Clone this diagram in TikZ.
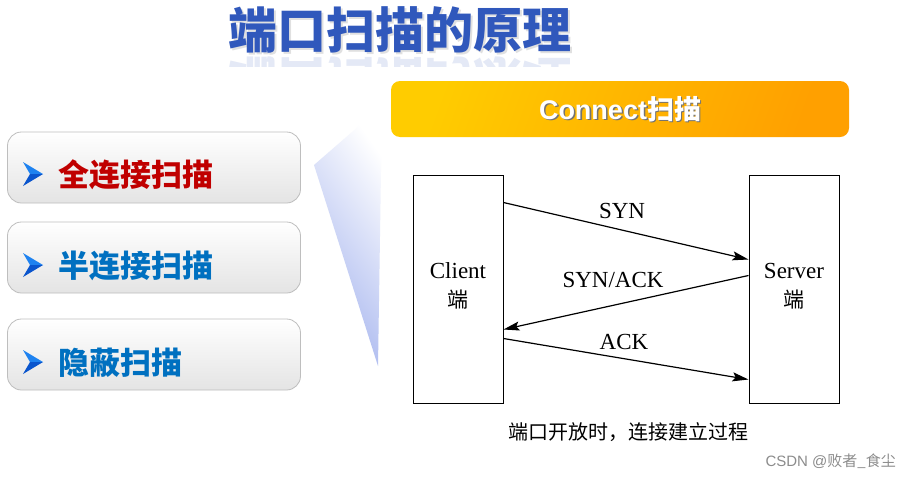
\documentclass[tikz,border=0pt]{standalone}
\usepackage{fontspec}
\setmainfont{Liberation Serif}
\newfontfamily\cjk{Noto Sans CJK SC}
\newfontfamily\arialf{Liberation Sans}
\usetikzlibrary{arrows.meta}
\definecolor{titleblue}{RGB}{48,88,188}
\definecolor{reflblue}{RGB}{228,233,246}
\definecolor{itemred}{RGB}{192,0,0}
\definecolor{itemblue}{RGB}{0,112,192}
\definecolor{tipblue}{RGB}{30,130,240}
\definecolor{tipdark}{RGB}{10,85,205}
\definecolor{wedgeblue}{RGB}{165,180,238}
\definecolor{orangeA}{RGB}{255,204,0}
\definecolor{orangeB}{RGB}{255,160,0}
\definecolor{boxgray}{RGB}{190,190,190}
\tikzset{
  itembox/.style={draw=boxgray, line width=0.8pt, rounded corners=14pt,
    top color=white, bottom color={rgb,255:red,228;green,228;blue,228},
    minimum width=293pt, minimum height=71pt},
  itemtext/.style={font=\cjk\bfseries\fontsize{31}{34}\selectfont, anchor=west, inner sep=0pt},
  endbox/.style={draw, line width=1pt, minimum width=90pt, minimum height=228pt, inner sep=0pt},
  msg/.style={line width=1.2pt, -{Stealth[length=16pt,width=9pt,inset=3pt]}},
  msglabel/.style={font=\fontsize{23}{25}\selectfont, inner sep=0pt},
}
\newcommand{\tipmark}[2]{%
  \fill[tipblue] (#1,#2-12) -- (#1+20,#2) -- (#1+7,#2) -- cycle;
  \fill[tipdark] (#1+7,#2) -- (#1+20,#2) -- (#1,#2+12) -- cycle;}
\begin{document}
\begin{tikzpicture}[x=1pt,y=-1pt]
\useasboundingbox (0,0) rectangle (912,479);
\fill[white] (0,0) rectangle (912,479);

% title with faint reflection
\begin{scope}
  \clip (150,54) rectangle (650,66);
  \node[yscale=-1, text=reflblue, font=\cjk\bfseries\fontsize{49}{55}\selectfont, inner sep=0pt] at (400,80) {端口扫描的原理};
\end{scope}
\node[text=black!12, font=\cjk\bfseries\fontsize{49}{55}\selectfont, inner sep=0pt] at (401.5,31.5) {端口扫描的原理};
\node (title) [text=titleblue, font=\cjk\bfseries\fontsize{49}{55}\selectfont, inner sep=0pt] at (400,30) {端口扫描的原理};

% wedge
\shade[left color=wedgeblue, right color=white, shading angle=125]
  (314,165) -- (382,106) -- (378,366) -- cycle;

% left items
\node (b1) [itembox] at (154,167.5) {};
\node (b2) [itembox] at (154,257.5) {};
\node (b3) [itembox] at (154,354.5) {};
\tipmark{23}{174}
\tipmark{23}{265}
\tipmark{23}{362}
\node (t1) [itemtext, text=itemred] at (58,175) {全连接扫描};
\node (t2) [itemtext, text=itemblue] at (58,266) {半连接扫描};
\node (t3) [itemtext, text=itemblue] at (58,363) {隐蔽扫描};

% orange header
\node (hdr) [rounded corners=9pt, left color=orangeA, right color=orangeB, shading angle=70,
  minimum width=458pt, minimum height=56pt] at (620,109) {};
\node[text=black!55, inner sep=0pt] at (621.5,110.5) {\fontsize{27}{30}\selectfont\arialf\bfseries Connect\cjk 扫描};
\node (hdrtext) [text=white, inner sep=0pt] at (620,109) {\fontsize{27}{30}\selectfont\arialf\bfseries Connect\cjk 扫描};

% handshake
\node (client) [endbox] at (458,289) {};
\node (server) [endbox] at (794,289) {};
\node (cl) [msglabel] at (458,271) {Client};
\node (clz) [font=\cjk\fontsize{21}{23}\selectfont, inner sep=0pt] at (458,300) {端};
\node (sl) [msglabel] at (794,271) {Server};
\node (slz) [font=\cjk\fontsize{21}{23}\selectfont, inner sep=0pt] at (794,300) {端};

\draw[msg] ([yshift=-28pt]client.north east) -- ([yshift=-85pt]server.north west);
\draw[msg] ([yshift=-101pt]server.north west) -- ([yshift=-155pt]client.north east);
\draw[msg] ([yshift=-164pt]client.north east) -- ([yshift=-205pt]server.north west);
\node (l1) [msglabel] at (622,211) {SYN};
\node (l2) [msglabel] at (613,280) {SYN/ACK};
\node (l3) [msglabel] at (624,342) {ACK};

% caption and watermark
\node (cap) [font=\cjk\fontsize{20}{22}\selectfont, inner sep=0pt] at (628,432) {端口开放时，连接建立过程};
\node (wm) [text=black!45, inner sep=0pt, anchor=east] at (896,461) {\fontsize{15}{17}\selectfont\arialf CSDN @\cjk 败者\_食尘};
\end{tikzpicture}
\end{document}
